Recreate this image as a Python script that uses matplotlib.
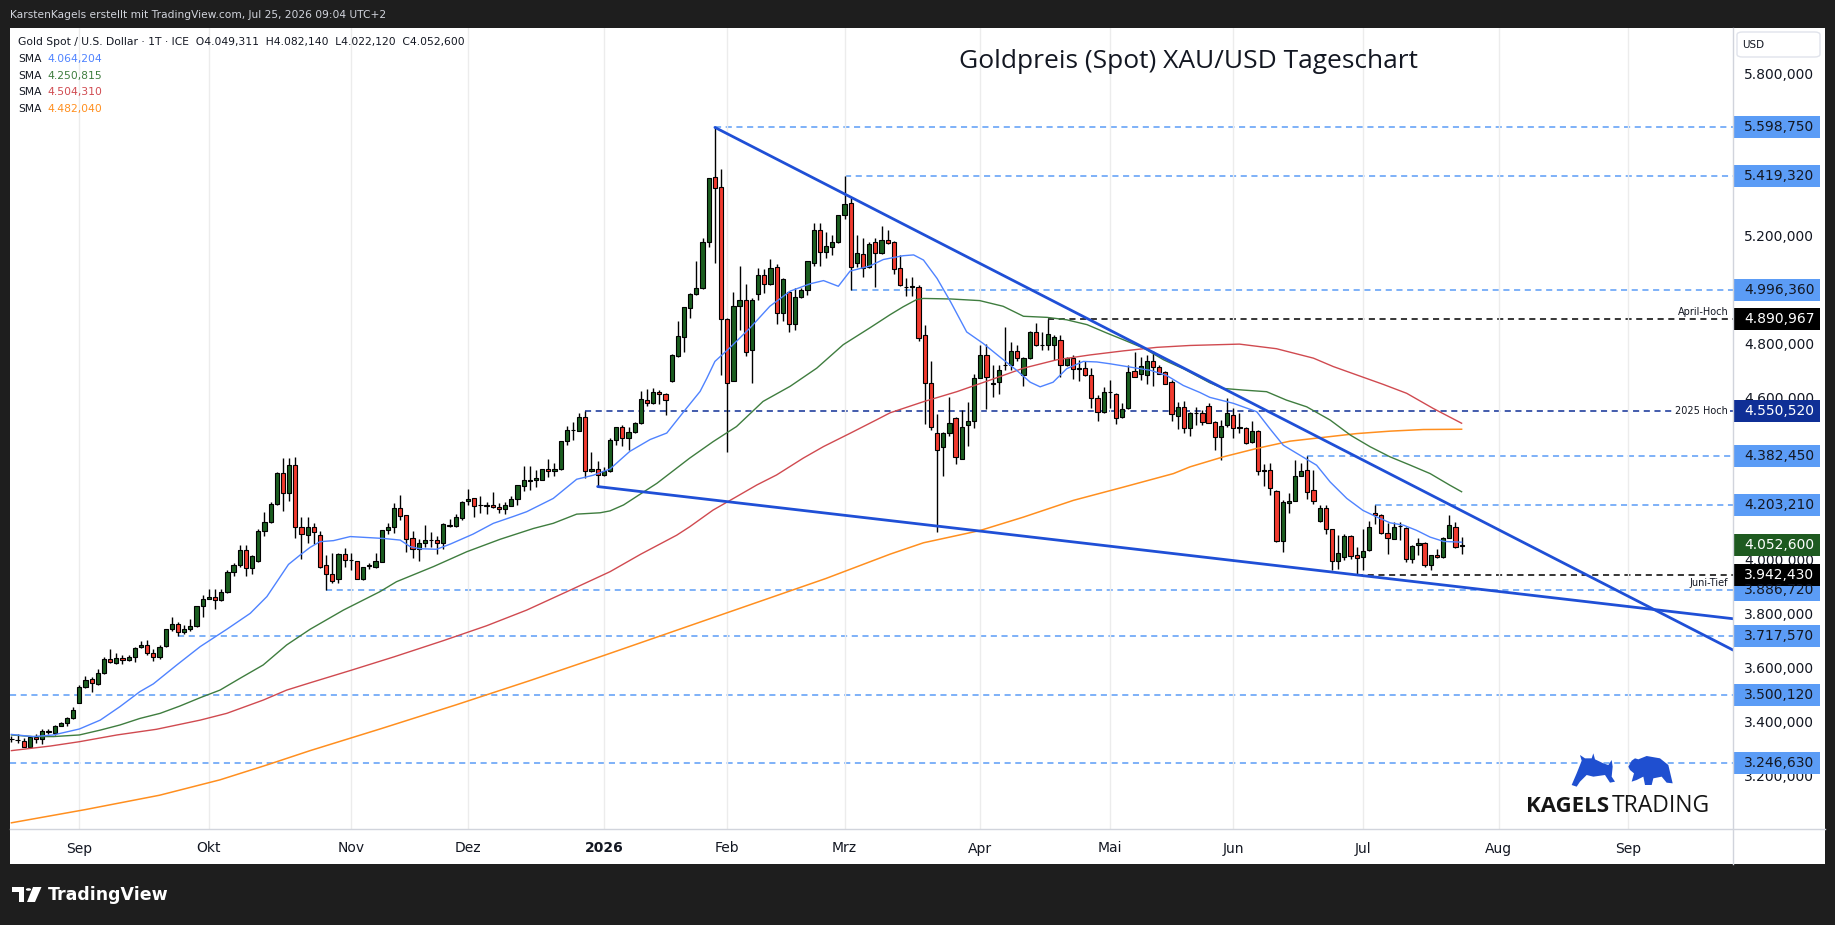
import numpy as np
import matplotlib
matplotlib.use("Agg")
import matplotlib.pyplot as plt
from matplotlib.patches import Rectangle, Polygon, Circle, FancyBboxPatch
from matplotlib.lines import Line2D

plt.rcParams['font.family'] = ['DejaVu Sans']

W, H = 1835, 925

aug25 = [(3335, 3347, 3326, 3336), (3332, 3354, 3320, 3333), (3329, 3339, 3305, 3308),
         (3308, 3347, 3305, 3343), (3343, 3353, 3322, 3335), (3335, 3373, 3318, 3364),
         (3362, 3373, 3354, 3365), (3360, 3389, 3351, 3386), (3386, 3398, 3383, 3394),
         (3394, 3416, 3383, 3412), (3412, 3453, 3409, 3443)]
sep25 = [(3470, 3535, 3468, 3527), (3527, 3570, 3523, 3554), (3557, 3567, 3509, 3542),
         (3540, 3596, 3536, 3579), (3579, 3641, 3575, 3631), (3631, 3668, 3616, 3620),
         (3616, 3653, 3612, 3634), (3634, 3646, 3612, 3628), (3628, 3646, 3625, 3638),
         (3638, 3678, 3622, 3672), (3675, 3700, 3672, 3682), (3682, 3701, 3646, 3653),
         (3653, 3668, 3626, 3638), (3638, 3683, 3631, 3678), (3680, 3742, 3678, 3742),
         (3742, 3786, 3734, 3760), (3760, 3770, 3718, 3731), (3731, 3757, 3724, 3742),
         (3742, 3779, 3734, 3753), (3753, 3827, 3750, 3827), (3827, 3868, 3789, 3853)]
okt25 = [(3853, 3890, 3853, 3861), (3861, 3890, 3816, 3849), (3849, 3890, 3847, 3879),
         (3879, 3961, 3875, 3953), (3953, 3987, 3939, 3980), (3980, 4055, 3974, 4034),
         (4034, 4055, 3940, 3967), (3967, 4018, 3945, 4013), (3993, 4112, 3991, 4104),
         (4104, 4176, 4087, 4138), (4138, 4214, 4134, 4204), (4204, 4324, 4202, 4320),
         (4320, 4376, 4181, 4245), (4245, 4376, 4215, 4349), (4349, 4381, 4078, 4119),
         (4119, 4156, 4001, 4093), (4089, 4156, 4062, 4122), (4121, 4136, 4057, 4103),
         (4091, 4106, 3970, 3974), (3980, 4017, 3887, 3945), (3945, 4023, 3912, 3922),
         (3927, 4023, 3912, 4020), (4020, 4041, 3974, 3997)]
nov25 = [(3997, 4023, 3961, 3998), (3993, 3996, 3927, 3927), (3927, 3974, 3925, 3974),
         (3975, 3986, 3964, 3978), (3971, 4023, 3968, 3993), (3992, 4109, 3990, 4109),
         (4109, 4136, 4094, 4120), (4119, 4208, 4097, 4191), (4191, 4238, 4146, 4161),
         (4163, 4165, 4029, 4075), (4078, 4104, 4004, 4038), (4038, 4077, 3996, 4060),
         (4060, 4128, 4048, 4071), (4071, 4103, 4048, 4072), (4071, 4087, 4019, 4060),
         (4060, 4134, 4038, 4130), (4126, 4149, 4119, 4125), (4124, 4168, 4120, 4157),
         (4152, 4217, 4146, 4212)]
dez25 = [(4215, 4260, 4202, 4223), (4226, 4228, 4159, 4199), (4200, 4235, 4171, 4201),
         (4199, 4214, 4168, 4200), (4200, 4251, 4189, 4193), (4194, 4210, 4173, 4187),
         (4186, 4214, 4167, 4200), (4199, 4235, 4198, 4223), (4223, 4277, 4200, 4274),
         (4273, 4347, 4254, 4293), (4290, 4346, 4257, 4296), (4296, 4331, 4270, 4300),
         (4296, 4336, 4294, 4334), (4334, 4371, 4307, 4326), (4326, 4356, 4309, 4334),
         (4334, 4440, 4331, 4437), (4437, 4494, 4424, 4478), (4478, 4510, 4442, 4479),
         (4476, 4543, 4474, 4526), (4526, 4551, 4300, 4326), (4327, 4398, 4325, 4334),
         (4334, 4366, 4270, 4312)]
jan26 = [(4312, 4344, 4309, 4326), (4327, 4448, 4325, 4442), (4442, 4492, 4424, 4489),
         (4489, 4498, 4421, 4448), (4449, 4492, 4405, 4471), (4471, 4510, 4469, 4504),
         (4504, 4624, 4502, 4594), (4589, 4630, 4568, 4578), (4578, 4636, 4576, 4619),
         (4619, 4626, 4577, 4611), (4611, 4615, 4535, 4589), (4660, 4759, 4658, 4757),
         (4754, 4882, 4751, 4827), (4825, 4936, 4769, 4933), (4929, 4985, 4895, 4982),
         (4982, 5106, 4980, 5003), (5003, 5188, 5000, 5175), (5175, 5410, 5155, 5410),
         (5414, 5599, 5096, 5373), (5377, 5445, 4683, 4889)]
feb26 = [(4889, 4895, 4399, 4652), (4662, 4991, 4660, 4939), (4939, 5086, 4849, 4959),
         (4959, 5019, 4754, 4769), (4776, 4969, 4652, 4959), (4981, 5080, 4960, 5051),
         (5051, 5075, 4985, 5018), (5018, 5112, 5016, 5077), (5081, 5093, 4871, 4913),
         (4913, 5040, 4884, 5038), (4990, 4993, 4841, 4873), (4871, 5003, 4849, 4971),
         (4971, 5006, 4969, 4997), (4997, 5104, 4979, 5104), (5098, 5244, 5087, 5218),
         (5218, 5244, 5087, 5137), (5137, 5213, 5117, 5160), (5155, 5201, 5127, 5175),
         (5175, 5275, 5170, 5275)]
mrz26 = [(5275, 5419, 5259, 5314), (5318, 5336, 4996, 5081), (5096, 5201, 5083, 5133),
         (5129, 5188, 5046, 5077), (5081, 5176, 5079, 5166), (5173, 5188, 5009, 5133),
         (5133, 5234, 5131, 5184), (5181, 5219, 5168, 5170), (5174, 5180, 5055, 5075),
         (5078, 5125, 5012, 5015), (5008, 5042, 4974, 5009), (5009, 5045, 4974, 5010),
         (5007, 5017, 4809, 4819), (4829, 4866, 4503, 4654), (4654, 4736, 4479, 4491),
         (4470, 4537, 4101, 4407), (4417, 4472, 4309, 4470), (4470, 4603, 4458, 4506),
         (4525, 4527, 4354, 4378), (4373, 4553, 4371, 4492), (4497, 4582, 4419, 4513),
         (4513, 4687, 4487, 4673)]
apr26 = [(4673, 4792, 4671, 4757), (4757, 4798, 4557, 4677), (4651, 4720, 4603, 4652),
         (4658, 4718, 4611, 4703), (4720, 4860, 4702, 4721), (4720, 4803, 4702, 4770),
         (4770, 4795, 4736, 4747), (4683, 4751, 4643, 4745), (4745, 4844, 4743, 4840),
         (4840, 4875, 4790, 4792), (4792, 4840, 4775, 4793), (4792, 4891, 4775, 4835),
         (4792, 4832, 4739, 4823), (4813, 4832, 4677, 4720), (4720, 4751, 4716, 4745),
         (4747, 4757, 4668, 4704), (4710, 4739, 4661, 4705), (4710, 4733, 4679, 4681),
         (4683, 4708, 4559, 4596), (4599, 4609, 4512, 4544), (4544, 4637, 4542, 4619)]
mai26 = [(4619, 4663, 4559, 4620), (4612, 4615, 4503, 4522), (4526, 4578, 4524, 4556),
         (4559, 4720, 4557, 4693), (4696, 4767, 4675, 4677), (4687, 4751, 4664, 4717),
         (4683, 4757, 4650, 4733), (4736, 4773, 4643, 4714), (4714, 4720, 4685, 4687),
         (4692, 4696, 4648, 4650), (4656, 4664, 4513, 4538), (4532, 4584, 4482, 4565),
         (4565, 4586, 4470, 4485), (4485, 4547, 4458, 4543), (4542, 4565, 4497, 4543),
         (4543, 4553, 4497, 4510), (4568, 4580, 4504, 4506), (4510, 4512, 4405, 4454),
         (4454, 4516, 4368, 4495), (4497, 4596, 4491, 4541)]
jun26 = [(4534, 4559, 4450, 4485), (4487, 4541, 4470, 4488), (4487, 4491, 4427, 4432),
         (4435, 4513, 4430, 4476), (4476, 4479, 4314, 4328), (4328, 4353, 4271, 4329),
         (4331, 4359, 4240, 4263), (4254, 4258, 4065, 4069), (4069, 4219, 4028, 4213),
         (4211, 4246, 4174, 4217), (4217, 4368, 4215, 4310), (4310, 4358, 4308, 4328),
         (4333, 4382, 4223, 4250), (4256, 4331, 4204, 4217), (4143, 4201, 4139, 4191),
         (4191, 4201, 4093, 4114), (4112, 4114, 3960, 3993), (3994, 4092, 3966, 4025),
         (4008, 4096, 3999, 4086), (4086, 4090, 4003, 4013), (4015, 4046, 3942.43, 4007)]
jul26 = [(4009, 4114, 3960, 4031), (4034, 4143, 4030, 4120), (4172, 4203.21, 4130, 4166),
         (4166, 4170, 4093, 4099), (4098, 4135, 4022, 4080), (4077, 4139, 4075, 4120),
         (4123, 4139, 4073, 4124), (4117, 4119, 3991, 4003), (4003, 4052, 3988, 4050),
         (4053, 4080, 4015, 4061), (4061, 4065, 3972, 3978), (3978, 4018, 3963, 4015),
         (4018, 4038, 4005, 4010), (4009, 4082, 4005, 4080), (4081, 4166, 4079, 4129),
         (4120, 4139, 4043, 4046), (4049.311, 4082.14, 4022.12, 4052.6)]

months = [aug25, sep25, okt25, nov25, dez25, jan26, feb26, mrz26, apr26, mai26, jun26, jul26]
month_labels = ['Sep', 'Okt', 'Nov', 'Dez', '2026', 'Feb', 'Mrz', 'Apr', 'Mai', 'Jun', 'Jul', 'Aug', 'Sep']

sma20_x = [0, 3.5, 6.8, 11, 14.4, 17.6, 20.8, 23, 26.8, 30.6, 34.9, 38.7, 41.4, 44.9, 46.8, 48.4,
           50, 52.2, 54.9, 60.3, 63, 64.6, 66.2, 68.9, 71.1, 74.8, 78.1, 81.3, 83.5, 87.8, 91.6,
           94.3, 97, 100.2, 103.5, 106.2, 109.4, 111.6, 112.7, 114, 116.4, 119.7, 122.9, 126.2,
           129.4, 131.6, 134, 135.9, 139.1, 141.3, 144.5, 146.2, 147.8, 150, 152.2, 154.8,
           157.5, 160.2, 162.9, 165.1, 166.7, 168.8, 171, 173.7, 175.9, 178.1, 181.3, 184.6,
           187.2, 189.9, 192.6, 194.2, 198, 201.8, 203.9, 206.1, 208.8, 211.5, 213.7, 216.4,
           219, 221.2, 223.4, 225.6, 227.7, 229.9, 232.1, 235]
sma20_y = [3353, 3345, 3351, 3373, 3406, 3456, 3511, 3540, 3610, 3678, 3742, 3801, 3863, 3982,
           4017, 4045, 4066, 4070, 4085, 4078, 4072, 4048, 4040, 4038, 4057, 4094, 4134, 4159,
           4177, 4226, 4297, 4312, 4335, 4400, 4444, 4468, 4560, 4622, 4671, 4733, 4783, 4857,
           4937, 4993, 5020, 5032, 5011, 5067, 5086, 5110, 5124, 5127, 5108, 5040, 4953, 4842,
           4799, 4749, 4700, 4656, 4639, 4656, 4706, 4733, 4731, 4724, 4712, 4700, 4681, 4644,
           4618, 4600, 4578, 4547, 4485, 4423, 4386, 4349, 4287, 4226, 4182, 4158, 4136, 4127,
           4108, 4083, 4067, 4064.204]
sma50_x = [0, 3.5, 6.8, 11, 14.4, 17.6, 20.8, 24.1, 27.3, 30.6, 33.8, 37, 40.8, 44.6, 48.4,
           53.8, 59.7, 62.4, 68.4, 73.8, 79.2, 84.6, 87.8, 91.6, 95.4, 97, 99.2, 104.6, 109.9,
           113.7, 117.5, 121.8, 126.2, 130.5, 134.8, 139.1, 142.4, 144.5, 146.7, 147.8, 152.2,
           156.9, 160.7, 164, 167.8, 171, 174.3, 177.5, 180.2, 183.5, 186.7, 190, 194.2, 196.4,
           199.6, 203.4, 206.6, 209.9, 213.7, 217, 220.2, 223.4, 226.7, 229.9, 233.1, 235]
sma50_y = [3351, 3345, 3345, 3351, 3369, 3388, 3412, 3431, 3458, 3489, 3517, 3560, 3610, 3684,
           3742, 3813, 3881, 3918, 3974, 4029, 4075, 4115, 4134, 4168, 4173, 4180, 4202, 4282,
           4375, 4436, 4492, 4585, 4641, 4708, 4795, 4857, 4906, 4935, 4962, 4966, 4964, 4958,
           4937, 4900, 4896, 4887, 4869, 4838, 4813, 4782, 4739, 4705, 4654, 4633, 4627, 4621,
           4590, 4565, 4516, 4460, 4417, 4380, 4349, 4318, 4275, 4250.815]
sma100_x = [0, 6.3, 11, 17.1, 23.5, 30.6, 34.9, 40.8, 44.6, 48.4, 55, 62, 70, 77, 83.5, 90, 97,
            102, 107.8, 109.9, 113.7, 117, 120.8, 124, 128.3, 131.6, 135.9, 140.2, 142.4, 147.8,
            153.2, 158.6, 164, 169.4, 174.8, 180.2, 185.6, 191, 194.2, 199, 205, 211, 214.2, 218,
            222.3, 226.1, 230.4, 235]
sma100_y = [3293, 3310, 3326, 3351, 3372, 3406, 3431, 3480, 3517, 3544, 3590, 3640, 3700, 3755,
            3813, 3881, 3955, 4020, 4090, 4121, 4183, 4226, 4276, 4313, 4375, 4418, 4467, 4517,
            4543, 4584, 4621, 4664, 4708, 4739, 4757, 4772, 4785, 4792, 4794, 4797, 4780, 4745,
            4714, 4683, 4648, 4615, 4559, 4504.31]
sma200_x = [0, 12, 24, 33.8, 41.4, 48.4, 60, 72, 84, 96, 108, 120, 132, 142.4, 147.8, 156.9,
            164, 172.1, 180.2, 188.3, 191, 196.4, 201.8, 207.2, 212.6, 218, 223.4, 228.8, 235]
sma200_y = [3026, 3075, 3128, 3185, 3240, 3293, 3375, 3462, 3552, 3645, 3740, 3835, 3930, 4020,
            4062, 4107, 4157, 4219, 4268, 4318, 4343, 4380, 4411, 4438, 4452, 4466, 4475, 4481,
            4482.04]

# Horizontale Marken: Preis, Startkerze (None = ab linkem Rand)
blue_levels = [5598.75, 5419.32, 4996.36, 4382.45, 4203.21, 3886.72, 3717.57, 3500.12, 3246.63]
blue_starts = [114, 135, 136, 210, 221, 51, 27, None, None]
black_levels = [4890.967, 3942.43]
black_starts = [168, 218]
black_notes = ['April-Hoch', 'Juni-Tief']
navy_level = 4550.52
navy_start = 93
navy_note = '2025 Hoch'

# Trendlinien (Kerzenindex, Preis)
trend_upper = ([114, 279], [5598.75, 3665])
trend_lower = ([95, 279], [4270, 3781])

sma_last = [4064.204, 4250.815, 4504.310, 4482.040]

# ------------------------------------------------------------------
candles = sum(months, [])
o, hi, lo, c = (np.array(v, dtype=float) for v in zip(*candles))
n = len(candles)
xi = np.arange(n)

starts = np.cumsum([0] + [len(m) for m in months[:-1]])
aug_start = n + int(np.busday_count('2026-07-27', '2026-08-03'))
sep_start = aug_start + int(np.busday_count('2026-08-03', '2026-09-01'))
tick_pos = list(starts[1:]) + [aug_start, sep_start]


def de(v):
    s = f"{v:,.3f}"
    return s.replace(',', 'X').replace('.', ',').replace('X', '.')


def fx(px):
    return px / W


def fy(py):
    return 1 - py / H


GREEN = '#1b5e20'
RED = '#f23b2f'
LBLUE = '#5b9cf6'
NAVY = '#0f2f96'
TLINE = '#1f4fd6'
TXT = '#131722'

fig = plt.figure(figsize=(W / 100, H / 100), dpi=100, facecolor='#1e1e1e')
fig.patches.append(Rectangle((fx(10), fy(864)), (1825 - 10) / W, (864 - 28) / H,
                             transform=fig.transFigure, facecolor='white',
                             edgecolor='none', zorder=-5))

ax = fig.add_axes([fx(10), fy(829), (1733 - 10) / W, (829 - 28) / H])
ax.set_facecolor('white')
for s in ax.spines.values():
    s.set_visible(False)
XL, XR = -0.23, 278.98
ax.set_xlim(XL, XR)
ax.set_ylim(3003.1, 5966.5)

# Gitter
ax.set_xticks(tick_pos)
ax.set_xticklabels(month_labels)
ax.grid(axis='x', color='#ececec', lw=1, zorder=0)
ax.tick_params(axis='x', length=0, pad=9, labelsize=10, colors=TXT)
ax.get_xticklabels()[4].set_fontweight('bold')

# Achsenbeschriftung rechts; von Preisschildern verdeckte Werte entfallen
tags_all = blue_levels + black_levels + [navy_level, jul26[-1][3]]
yt = [v for v in range(3200, 5801, 200) if min(abs(v - t) for t in tags_all) > 20]
ax.yaxis.tick_right()
ax.set_yticks(yt)
ax.set_yticklabels([de(v) for v in yt])
ax.tick_params(axis='y', length=0, pad=8, labelsize=10, colors=TXT)

# Horizontale Linien
for p, st in zip(blue_levels, blue_starts):
    ax.hlines(p, XL if st is None else st, XR, color=LBLUE, lw=1.1,
              linestyles=(0, (4, 3)), zorder=1)
for p, st in zip(black_levels, black_starts):
    ax.hlines(p, st, XR, color='black', lw=1.1, linestyles=(0, (4, 3)), zorder=1)
ax.hlines(navy_level, navy_start, XR, color=NAVY, lw=1.1, linestyles=(0, (4, 3)), zorder=1)

ax.text(278.2, black_levels[0] + 6, black_notes[0], ha='right', va='bottom', fontsize=7, color=TXT)
ax.text(278.2, black_levels[1] - 10, black_notes[1], ha='right', va='top', fontsize=7, color=TXT)
ax.text(278.2, navy_level, navy_note, ha='right', va='center', fontsize=7, color=TXT,
        bbox=dict(facecolor='white', edgecolor='none', pad=1), zorder=2)

# Kerzen
col = np.where(c >= o, GREEN, RED)
ax.vlines(xi, lo, hi, color='black', lw=1, zorder=3)
ax.bar(xi, np.maximum(np.abs(c - o), 1.5), bottom=np.minimum(o, c), width=0.68,
       color=col, edgecolor='black', linewidth=0.8, zorder=4)

# SMAs
ax.plot(sma200_x, sma200_y, color='#ff8f1f', lw=1.1, zorder=5)
ax.plot(sma100_x, sma100_y, color='#d04a50', lw=1.0, zorder=5)
ax.plot(sma50_x, sma50_y, color='#3f7d3f', lw=1.0, zorder=5)
ax.plot(sma20_x, sma20_y, color='#4f83ff', lw=1.0, zorder=5)

# Trendlinien
ax.plot(*trend_upper, color=TLINE, lw=2.0, zorder=6, solid_capstyle='round')
ax.plot(*trend_lower, color=TLINE, lw=2.0, zorder=6, solid_capstyle='round')

# Preisschilder an der Achse
tr = ax.get_yaxis_transform()
bw = 87 / 1723
bh = 22 / 0.2703


def tag(p, face, fg):
    ax.add_patch(Rectangle((1.0, p - bh / 2), bw, bh, transform=tr, facecolor=face,
                           edgecolor='none', clip_on=False, zorder=20))
    ax.text(1.0 + 11 / 1723, p, de(p), transform=tr, ha='left', va='center',
            fontsize=10, color=fg, clip_on=False, zorder=21)


for p in blue_levels:
    tag(p, LBLUE, TXT)
tag(navy_level, NAVY, 'white')
for p in black_levels:
    tag(p, 'black', 'white')
tag(c[-1], '#1e5a20', 'white')

# Rahmenlinien
fig.add_artist(Line2D([fx(1733), fx(1733)], [fy(28), fy(864)], transform=fig.transFigure,
                      color='#d1d4dc', lw=1))
fig.add_artist(Line2D([fx(10), fx(1825)], [fy(829), fy(829)], transform=fig.transFigure,
                      color='#d1d4dc', lw=1))

# USD-Feld
fig.patches.append(FancyBboxPatch((fx(1737), fy(57)), (1820 - 1737) / W, 25 / H,
                                  boxstyle='round,pad=0,rounding_size=0.003',
                                  transform=fig.transFigure, facecolor='white',
                                  edgecolor='#e0e3eb', lw=1, zorder=3))
fig.text(fx(1742), fy(45), 'USD', fontsize=7.5, color=TXT, va='center', zorder=4)

# Kopfzeilen
fig.text(fx(10), fy(15), 'KarstenKagels erstellt mit TradingView.com, Jul 25, 2026 09:04 UTC+2',
         fontsize=7.7, color='#d1d4dc', va='center')
fig.text(fx(18), fy(42),
         f'Gold Spot / U.S. Dollar \u00b7 1T \u00b7 ICE  O{de(o[-1])}  H{de(hi[-1])}  '
         f'L{de(lo[-1])}  C{de(c[-1])}', fontsize=7.75, color=TXT, va='center')
for k, (v, cc) in enumerate(zip(sma_last, ['#4f83ff', '#3f7d3f', '#d04a50', '#ff8f1f'])):
    yy = 59 + k * 16.7
    fig.text(fx(18), fy(yy), 'SMA', fontsize=7.75, color=TXT, va='center')
    fig.text(fx(47), fy(yy), de(v), fontsize=7.75, color=cc, va='center')

fig.text(fx(1188), fy(62), 'Goldpreis (Spot) XAU/USD Tageschart', fontsize=19,
         ha='center', va='center', color=TXT, family='Open Sans')

# Wasserzeichen KAGELS TRADING
fig.text(fx(1526), fy(806), 'KAGELS', fontsize=16, fontweight='bold', family='Open Sans',
         color='#151515', va='center', ha='left')
fig.text(fx(1612), fy(806), 'TRADING', fontsize=16.5, family='Open Sans',
         color='#151515', va='center', ha='left')
bull = [(275, 135), (290, 100), (300, 75), (305, 62), (300, 45), (315, 55), (335, 55), (340, 40),
        (345, 58), (370, 70), (385, 75), (395, 60), (398, 80), (395, 110), (405, 125), (390, 128),
        (375, 105), (340, 110), (320, 105), (300, 125), (290, 140)]
bear = [(445, 80), (455, 62), (465, 55), (475, 58), (500, 48), (540, 55), (565, 75), (578, 130),
        (560, 128), (545, 110), (520, 115), (515, 135), (495, 135), (490, 110), (470, 120),
        (455, 125), (462, 100), (450, 90)]
for shape in (bull, bear):
    pts = [(fx(1480 + a / 3), fy(740 + b / 3)) for a, b in shape]
    fig.add_artist(Polygon(pts, closed=True, transform=fig.transFigure,
                           facecolor='#1f4fd0', edgecolor='none'))

# TradingView-Logo
tvT = [(12, 887), (24, 887), (24, 902), (18.5, 902), (18.5, 892), (12, 892)]
tvS = [(33, 887), (41.5, 887), (35, 902), (27, 902)]
for shape in (tvT, tvS):
    fig.add_artist(Polygon([(fx(a), fy(b)) for a, b in shape], closed=True,
                           transform=fig.transFigure, facecolor='white', edgecolor='none'))
fig.add_artist(Circle((fx(28.5), fy(889.5)), 2.6 / W, transform=fig.transFigure,
                      facecolor='white', edgecolor='none'))
fig.text(fx(48), fy(895), 'TradingView', fontsize=12.5, fontweight='bold', color='white',
         va='center', ha='left')

fig.savefig('out.png', dpi=100, facecolor=fig.get_facecolor())
